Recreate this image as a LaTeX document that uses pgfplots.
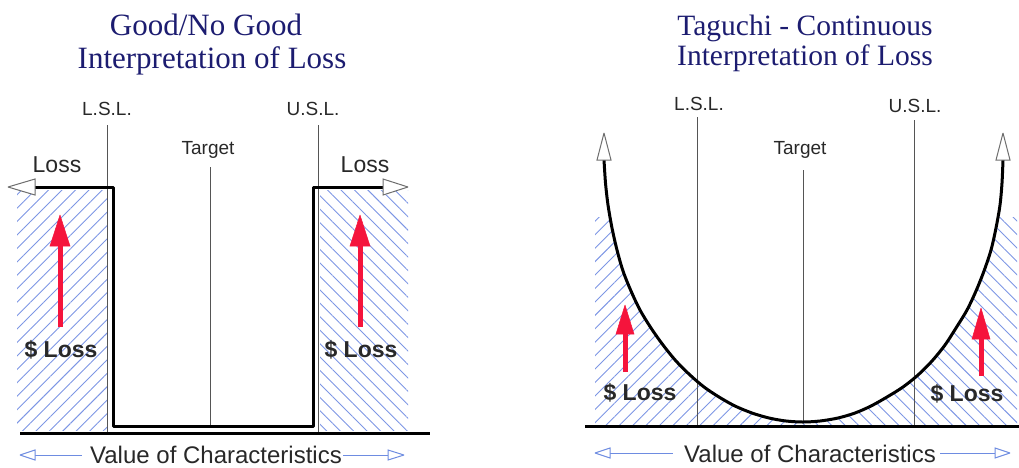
\documentclass[border=0pt]{standalone}
\usepackage{pgfplots}
\pgfplotsset{compat=1.18}
\usepackage{fontspec}
\setmainfont{Liberation Sans}
\newfontfamily\seriffont{Liberation Serif}
\usetikzlibrary{patterns.meta}
\definecolor{navy}{RGB}{28,28,112}
\definecolor{hatch}{RGB}{125,150,228}
\definecolor{redarr}{RGB}{245,20,60}
\definecolor{txt}{RGB}{40,40,40}
\definecolor{bluearr}{RGB}{110,140,225}
\definecolor{thin}{RGB}{85,85,85}
\definecolor{headgray}{RGB}{110,110,110}
\begin{document}
\begin{tikzpicture}
\useasboundingbox (0,0) rectangle (1019pt,467pt);
\begin{axis}[at={(0,0)}, anchor=south west,
  width=1019pt, height=467pt, scale only axis,
  xmin=0, xmax=1019, ymin=0, ymax=467, y dir=reverse,
  axis lines=none, clip=false]
% ---------- LEFT PANEL ----------
\addplot[draw=none, pattern={Lines[angle=45,distance=9.5pt,line width=0.9pt]}, pattern color=hatch]
  coordinates {(17,190) (107,190) (107,430) (17,430)};
\addplot[draw=none, pattern={Lines[angle=-45,distance=9.5pt,line width=0.9pt]}, pattern color=hatch]
  coordinates {(320,190) (408,190) (408,430) (320,430)};
\addplot[line width=1pt, color=thin] coordinates {(107,125) (107,433)};
\addplot[line width=1pt, color=thin] coordinates {(318,125) (318,433)};
\addplot[line width=1pt, color=thin] coordinates {(210,167) (210,426)};
\addplot[black, line width=3pt, line join=round] coordinates {(35,187) (113,187) (113,426) (313,426) (313,187) (383,187)};
\addplot[headgray, fill=white, line width=1pt] coordinates {(8,187) (35,179) (35,195) (8,187)};
\addplot[headgray, fill=white, line width=1pt] coordinates {(408,187) (383,179) (383,195) (408,187)};
\addplot[redarr, line width=5pt] coordinates {(60,327) (60,240)};
\addplot[redarr, fill=redarr, line width=0.5pt] coordinates {(60,215) (50,246) (70,246) (60,215)};
\addplot[redarr, line width=5pt] coordinates {(360,327) (360,240)};
\addplot[redarr, fill=redarr, line width=0.5pt] coordinates {(360,215) (350,246) (370,246) (360,215)};
\addplot[black, line width=3pt] coordinates {(20,433) (430,433)};
\addplot[bluearr, line width=1pt] coordinates {(35,455) (82,455)};
\addplot[bluearr, fill=white, line width=1pt] coordinates {(20,455) (35,450) (35,460) (20,455)};
\addplot[bluearr, line width=1pt] coordinates {(343,455) (388,455)};
\addplot[bluearr, fill=white, line width=1pt] coordinates {(404,455) (388,450) (388,460) (404,455)};
% ---------- RIGHT PANEL ----------
\addplot[draw=none, pattern={Lines[angle=45,distance=9.5pt,line width=0.9pt]}, pattern color=hatch]
  coordinates {(595,217) (609,217) (617,250) (631,291) (651,328) (676,361) (704,387) (735,406) (769,418) (803,422) (803,425) (595,425)};
\addplot[draw=none, pattern={Lines[angle=-45,distance=9.5pt,line width=0.9pt]}, pattern color=hatch]
  coordinates {(803,422) (838,418) (871,406) (903,387) (932,361) (956,328) (976,291) (991,250) (999,217) (1017,217) (1017,425) (803,425)};
\addplot[line width=1pt, color=thin] coordinates {(697,117) (697,425)};
\addplot[line width=1pt, color=thin] coordinates {(914,120) (914,425)};
\addplot[line width=1pt, color=thin] coordinates {(803,170) (803,422)};
\addplot[black, line width=3pt, smooth] coordinates {(604,160) (605.5,183) (608,205) (612,228) (617,250) (623,271) (631,291) (640,310) (651,328) (663,345) (676,361) (690,375) (704,387) (719,397) (735,406) (752,413) (769,418) (786,421) (803,422) (820,421) (838,418) (855,413) (871,406) (887,397) (903,387) (918,375) (932,361) (945,345) (956,328) (967,310) (976,291) (984,271) (991,250) (996,228) (1000,205) (1002,183) (1003,160)};
\addplot[headgray, fill=white, line width=1pt] coordinates {(604,133) (597,160) (611,160) (604,133)};
\addplot[headgray, fill=white, line width=1pt] coordinates {(1003,133) (996,160) (1010,160) (1003,133)};
\addplot[redarr, line width=5pt] coordinates {(625,372) (625,328)};
\addplot[redarr, fill=redarr, line width=0.5pt] coordinates {(625,305) (616,334) (634,334) (625,305)};
\addplot[redarr, line width=5pt] coordinates {(981,376) (981,333)};
\addplot[redarr, fill=redarr, line width=0.5pt] coordinates {(981,308) (972,339) (990,339) (981,308)};
\addplot[black, line width=3pt] coordinates {(585,426) (1019,426)};
\addplot[bluearr, line width=1pt] coordinates {(610,453) (673,453)};
\addplot[bluearr, fill=white, line width=1pt] coordinates {(595,453) (610,448) (610,458) (595,453)};
\addplot[bluearr, line width=1pt] coordinates {(940,453) (995,453)};
\addplot[bluearr, fill=white, line width=1pt] coordinates {(1010,453) (995,448) (995,458) (1010,453)};
% ---------- TEXT ----------
\node[anchor=base, inner sep=0, text=navy, font=\seriffont\fontsize{31}{33}\selectfont] at (axis cs:206,35) {Good/No Good};
\node[anchor=base, inner sep=0, text=navy, font=\seriffont\fontsize{31}{33}\selectfont] at (axis cs:212,68) {Interpretation of Loss};
\node[anchor=base, inner sep=0, text=navy, font=\seriffont\fontsize{29.5}{31}\selectfont] at (axis cs:805,35) {Taguchi - Continuous};
\node[anchor=base, inner sep=0, text=navy, font=\seriffont\fontsize{29.5}{31}\selectfont] at (axis cs:805,65) {Interpretation of Loss};
\node[anchor=base, inner sep=0, text=txt, font=\fontsize{19}{22}\selectfont] at (axis cs:107,115) {L.S.L.};
\node[anchor=base, inner sep=0, text=txt, font=\fontsize{19}{22}\selectfont] at (axis cs:313,115) {U.S.L.};
\node[anchor=base, inner sep=0, text=txt, font=\fontsize{19}{22}\selectfont] at (axis cs:208,154) {Target};
\node[anchor=base, inner sep=0, text=txt, font=\fontsize{19}{22}\selectfont] at (axis cs:699,110) {L.S.L.};
\node[anchor=base, inner sep=0, text=txt, font=\fontsize{19}{22}\selectfont] at (axis cs:915,112) {U.S.L.};
\node[anchor=base, inner sep=0, text=txt, font=\fontsize{19}{22}\selectfont] at (axis cs:800,154) {Target};
\node[anchor=base, inner sep=0, text=txt, font=\fontsize{23}{26}\selectfont] at (axis cs:57,172) {Loss};
\node[anchor=base, inner sep=0, text=txt, font=\fontsize{23}{26}\selectfont] at (axis cs:365,172) {Loss};
\node[anchor=base, inner sep=0, text=txt, font=\bfseries\fontsize{23}{26}\selectfont] at (axis cs:61,357) {\$ Loss};
\node[anchor=base, inner sep=0, text=txt, font=\bfseries\fontsize{23}{26}\selectfont] at (axis cs:361,357) {\$ Loss};
\node[anchor=base, inner sep=0, text=txt, font=\bfseries\fontsize{23}{26}\selectfont] at (axis cs:640,400) {\$ Loss};
\node[anchor=base, inner sep=0, text=txt, font=\bfseries\fontsize{23}{26}\selectfont] at (axis cs:967,401) {\$ Loss};
\node[anchor=base, inner sep=0, text=txt, font=\fontsize{24}{27}\selectfont] at (axis cs:216,463) {Value of Characteristics};
\node[anchor=base, inner sep=0, text=txt, font=\fontsize{24}{27}\selectfont] at (axis cs:810,462) {Value of Characteristics};
\end{axis}
\end{tikzpicture}
\end{document}
